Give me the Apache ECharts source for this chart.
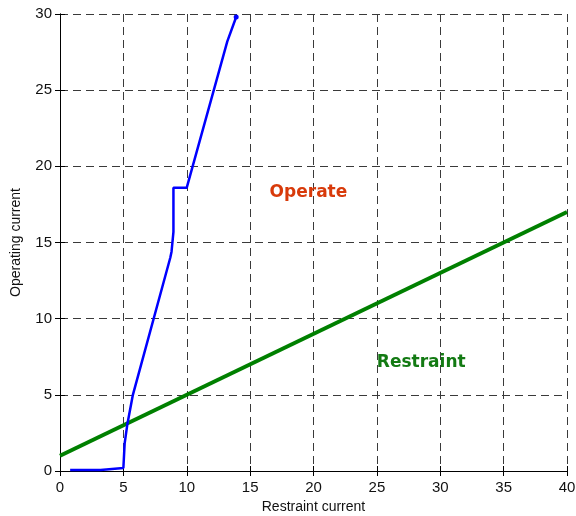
<!DOCTYPE html>
<html>
<head>
<meta charset="utf-8">
<script src="https://cdn.jsdelivr.net/npm/echarts@6/dist/echarts.min.js"></script>
<style>
  html, body { margin: 0; padding: 0; background: #fff; }
  #chart { width: 576px; height: 516px; }
</style>
</head>
<body>
<div id="chart"></div>
<script>
// Relay trajectory in the restraint/operating current plane
const relayRestraint = [0.8, 3.2, 3.3, 5.0, 5.05, 5.1, 5.3, 5.75, 8.7, 8.8, 8.95, 8.95, 10.0, 13.2, 13.9];
const relayOperating = [0.07, 0.07, 0.2, 0.2, 0.25, 1.8, 3.0, 5.0, 14.0, 14.4, 15.7, 18.6, 18.6, 28.2, 29.8];

// Restraint characteristic (straight line)
const charRestraint = [0, 40];
const charOperating = [1, 17];

// Region labels
const regionNames = ['Operate', 'Restraint'];
const regionX = [19.6, 28.5];
const regionY = [18.3, 7.15];
const regionColors = ['#d83a0a', '#137a13'];

const xTicks = { min: 0, max: 40, interval: 5 };
const yTicks = { min: 0, max: 30, interval: 5 };

const zip = (a, b) => a.map((v, i) => [v, b[i]]);
const chart = echarts.init(document.getElementById('chart'), null, { renderer: 'canvas' });

const gridLine = { show: true, lineStyle: { color: '#3a3a3a', type: [8, 5], width: 1 } };
const tickFont = { fontFamily: 'Liberation Sans, Arial, sans-serif', fontSize: 15, color: '#111' };

chart.setOption({
  animation: false,
  grid: { left: 60, right: 9, top: 14, bottom: 45, containLabel: false, outerBoundsMode: 'none' },
  xAxis: [{
    type: 'value', min: xTicks.min, max: xTicks.max, interval: xTicks.interval,
    name: 'Restraint current', nameLocation: 'middle', nameGap: 29,
    nameTextStyle: { fontFamily: 'Liberation Sans, Arial, sans-serif', fontSize: 14, color: '#111' },
    axisLine: { show: true, onZero: false, lineStyle: { color: '#000', width: 1 } },
    axisTick: { show: true, inside: true, length: 5, lineStyle: { color: '#000' } },
    axisLabel: Object.assign({ margin: 9 }, tickFont),
    splitLine: gridLine
  }, {
    type: 'value', position: 'top', min: xTicks.min, max: xTicks.max, interval: xTicks.interval,
    axisLine: { show: true, lineStyle: { color: '#000', width: 1 } },
    axisTick: { show: true, inside: true, length: 5, lineStyle: { color: '#000' } },
    axisLabel: { show: false }, splitLine: { show: false }
  }],
  yAxis: [{
    type: 'value', min: yTicks.min, max: yTicks.max, interval: yTicks.interval,
    name: 'Operating current', nameLocation: 'middle', nameGap: 37,
    nameTextStyle: { fontFamily: 'Liberation Sans, Arial, sans-serif', fontSize: 14, color: '#111' },
    axisLine: { show: true, onZero: false, lineStyle: { color: '#000', width: 1 } },
    axisTick: { show: true, inside: true, length: 5, lineStyle: { color: '#000' } },
    axisLabel: Object.assign({ margin: 8 }, tickFont),
    splitLine: gridLine
  }, {
    type: 'value', position: 'right', min: yTicks.min, max: yTicks.max, interval: yTicks.interval,
    axisLine: { show: true, lineStyle: { color: '#000', width: 1 } },
    axisTick: { show: true, inside: true, length: 5, lineStyle: { color: '#000' } },
    axisLabel: { show: false }, splitLine: { show: false }
  }],
  series: [{
    type: 'line',
    data: zip(charRestraint, charOperating),
    showSymbol: false,
    lineStyle: { color: '#008000', width: 4 },
    z: 3
  }, {
    type: 'line',
    data: zip(relayRestraint, relayOperating),
    showSymbol: false,
    lineStyle: { color: '#0000ff', width: 2.5 },
    z: 4
  }, {
    type: 'scatter',
    data: [[relayRestraint[relayRestraint.length - 1], relayOperating[relayOperating.length - 1]]],
    symbol: 'circle', symbolSize: 5,
    itemStyle: { color: '#0000ff', opacity: 1 },
    z: 5
  }, {
    type: 'scatter',
    symbolSize: 0,
    itemStyle: { opacity: 1 },
    data: regionNames.map((n, i) => ({
      value: [regionX[i], regionY[i]],
      label: {
        show: true, position: 'inside', formatter: n,
        color: regionColors[i], opacity: 1,
        fontFamily: 'DejaVu Sans, Verdana, sans-serif', fontWeight: 'bold', fontSize: 17
      }
    })),
    z: 6
  }]
});
</script>
</body>
</html>
